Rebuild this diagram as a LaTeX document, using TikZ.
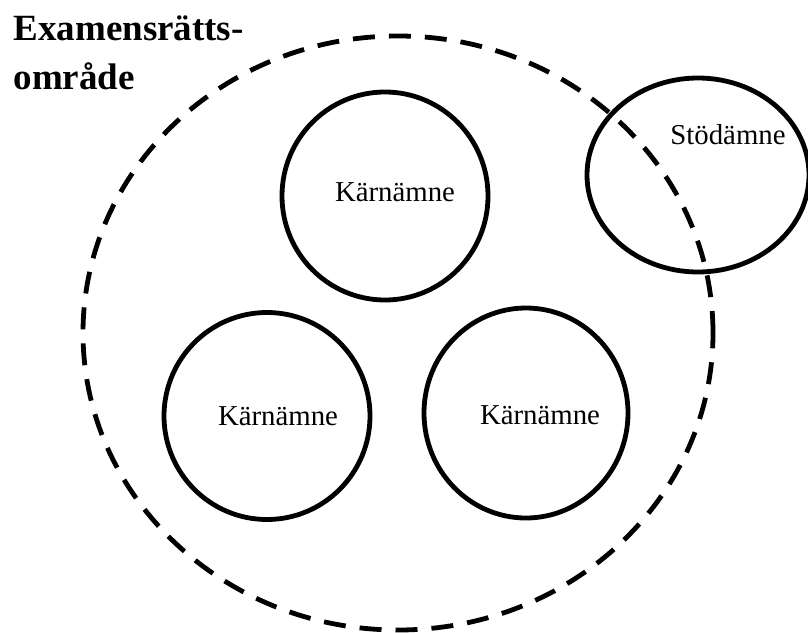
\documentclass[tikz,border=0pt]{standalone}
\usepackage{fontspec}
\setmainfont{Liberation Serif}
\usetikzlibrary{shapes.geometric}

\begin{document}
\begin{tikzpicture}
[x=1pt, y=-1pt,
amne/.style={shape=ellipse,draw=black,line width=4.8pt,inner sep=0pt},
omrade/.style={shape=ellipse,draw=black,line width=4.8pt,dash pattern=on 22pt off 14pt,inner sep=0pt},
amnetext/.style={font=\fontsize{28.8}{34}\selectfont},
rubrik/.style={font=\fontsize{37}{49}\selectfont\bfseries,align=left}]

\useasboundingbox (0,0) rectangle (808,632);

% examensrattsomrade
\node[omrade,minimum width=630pt,minimum height=594pt] (omr) at (398,333) {};
\node[rubrik,anchor=base west] (rubr) at (10,89) {Examensrätts-\\område};

% karnamnen
\node[amne,minimum width=206pt,minimum height=208pt] (karna) at (385,196) {};
\node[amnetext] (karnatext) at ([xshift=10pt,yshift=4pt]karna.center) {Kärnämne};
\node[amne,minimum width=206pt,minimum height=207pt] (karnb) at (267,416) {};
\node[amnetext] (karnbtext) at ([xshift=11pt]karnb.center) {Kärnämne};
\node[amne,minimum width=204pt,minimum height=210pt] (karnc) at (526,413) {};
\node[amnetext] (karnctext) at ([xshift=14pt,yshift=-2pt]karnc.center) {Kärnämne};

% stodamne
\node[amne,minimum width=222pt,minimum height=194pt] (stod) at (698,175) {};
\node[amnetext] (stodtext) at ([xshift=30pt,yshift=40pt]stod.center) {Stödämne};
\end{tikzpicture}
\end{document}
